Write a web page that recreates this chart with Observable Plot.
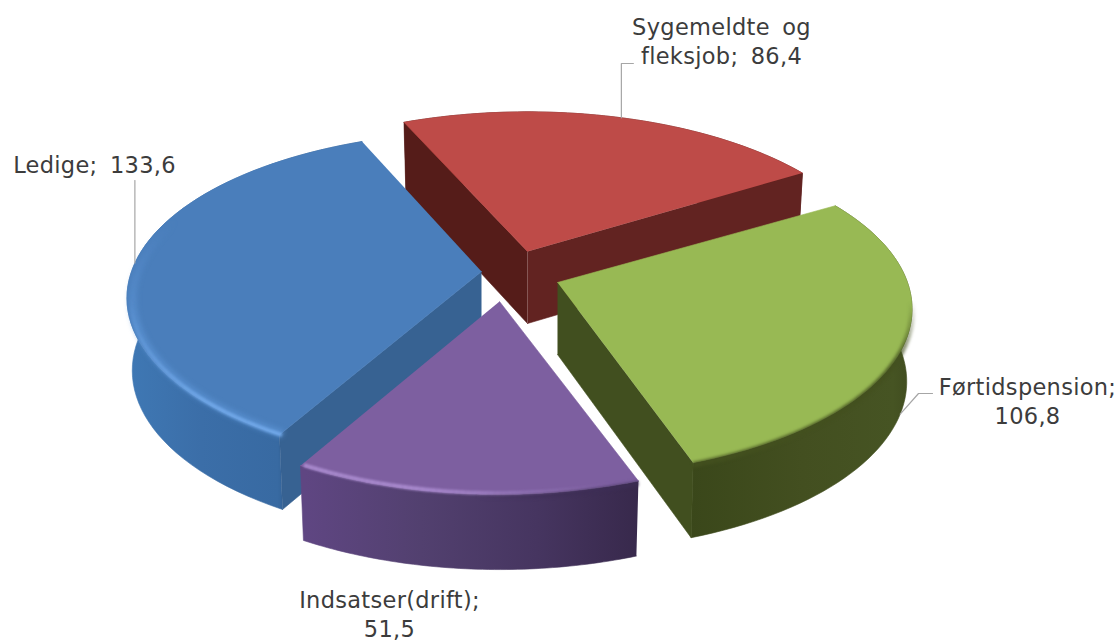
<!DOCTYPE html>
<html><head><meta charset="utf-8">
<script src="https://cdn.jsdelivr.net/npm/d3@7"></script>
<script src="https://cdn.jsdelivr.net/npm/@observablehq/plot@0.6"></script>
<style>
html,body{margin:0;padding:0;background:#fff}
svg text{letter-spacing:.3px;word-spacing:5px}
</style></head><body>
<script>
const categories = ["Ledige", "Sygemeldte og fleksjob", "Førtidspension", "Indsatser(drift)"];
const values = [133.6, 86.4, 106.8, 51.5];
const labelLines = [["Ledige; 133,6"], ["Sygemeldte og", "fleksjob; 86,4"], ["Førtidspension;", "106,8"], ["Indsatser(drift);", "51,5"]];

// Layout of the tilted pie
const START = 209, R = 350, PERSP = 0.16 / 350, K = 162 / 350, DEPTH = 72;
const apex = [[481, 271], [527, 251], [557, 282], [499, 301]];
const turn = [0.8, 0, 0.8, 0.3]; // small per-slice correction of the camera rotation
const topColor = ["#4a7ebb", "#be4b48", "#98b954", "#7d5fa0"];
const cutColor = [["#376292", "#376292"], ["#622321", "#551c19"], ["#414f1f", "#414f1f"], ["#4c3a6a", "#4c3a6a"]];
const rad = d => d * Math.PI / 180;
const total = d3.sum(values);
let acc = START;
const slices = values.map((v, i) => {
  const a0 = acc + turn[i], a1 = acc + turn[i] + v / total * 360;
  acc += v / total * 360;
  return {i, a0, a1};
});
function pt(i, deg, r, z) {
  const X = R * r * Math.sin(rad(deg)), Y = R * r * Math.cos(rad(deg));
  const w = 1 / (1 + PERSP * Y);
  const sx = X * w * (1 - 0.015 * z), sy = -K * Y * w;
  return {x: apex[i][0] + sx, y: apex[i][1] + sy + z * DEPTH * Math.pow(w, 0.25)};
}
const arc = (s, r, z) => d3.range(0, 61).map(k => pt(s.i, s.a0 + (s.a1 - s.a0) * k / 60, r, z));
const poly = (points, fill) => Plot.line(points, {x: "x", y: "y", fill, stroke: fill, strokeWidth: 0.6, curve: "linear"});

const gradients = [
  ["gBlue", 127, 290, [[0, "#3f78b4"], [0.45, "#3b6ea8"], [0.92, "#386aa2"], [1, "#2f5c8e"]]],
  ["gPurple", 305, 636, [[0, "#5f4682"], [0.35, "#52406f"], [0.7, "#463560"], [1, "#38294c"]]],
  ["gGreen", 690, 915, [[0, "#3a471a"], [0.5, "#434f20"], [0.9, "#465423"], [1, "#3e4a1d"]]],
  ["gRed", 403, 810, [[0, "#5a1e1b"], [1, "#5e201d"]]]
];
const wallFill = ["url(#gBlue)", "url(#gRed)", "url(#gGreen)", "url(#gPurple)"];
function defs() {
  const d = d3.create("svg:defs");
  for (const [id, x1, x2, stops] of gradients) {
    const g = d.append("linearGradient").attr("id", id).attr("gradientUnits", "userSpaceOnUse")
      .attr("x1", x1).attr("x2", x2).attr("y1", 0).attr("y2", 0);
    for (const [o, c] of stops) g.append("stop").attr("offset", o).attr("stop-color", c);
  }
  return d.node();
}

const clamp = (v, lo, hi) => Math.max(lo, Math.min(hi, v));
const blurred = px => function (index, scales, values, dims, ctx, next) {
  const g = next(index, scales, values, dims, ctx);
  g.style.filter = `blur(${px}px)`;
  return g;
};
function rim(s, color, opacity, r, width, blur, z = 0.03) {
  const pts = d3.range(0, 61).map(k => {
    const a = s.a0 + (s.a1 - s.a0) * k / 60;
    return {...pt(s.i, a, r, z), a};
  });
  const segs = d3.pairs(pts).map(([p, q]) => ({x1: p.x, y1: p.y, x2: q.x, y2: q.y, o: opacity((p.a + q.a) / 2)}));
  return Plot.link(segs, {x1: "x1", y1: "y1", x2: "x2", y2: "y2", stroke: color,
    strokeOpacity: {value: "o", scale: null}, strokeWidth: width, render: blurred(blur)});
}

const marks = [defs];
// back to front: red, blue, green, purple
for (const i of [1, 0, 2, 3]) {
  const s = slices[i];
  // outer wall
  marks.push(poly([...arc(s, 1, 0), ...arc(s, 1, 1).reverse()], wallFill[i]));
  // cut faces, only when they look at the viewer
  [[s.a0, s.a0 - 90], [s.a1, s.a1 + 90]].forEach(([a, n], f) => {
    if (Math.cos(rad(n)) < 0) {
      marks.push(poly([pt(i, a, 0, 0), pt(i, a, 1, 0), pt(i, a, 1, 1), pt(i, a, 0, 1)], cutColor[i][f === 0 ? 1 : 0]));
    }
  });
  // top
  marks.push(poly([pt(i, 0, 0, 0), ...arc(s, 1, 0)], topColor[i]));
  // bevel
  if (i === 0) {
    marks.push(rim(s, "#5f97d8", a => clamp((290 - a) / 60, 0, 0.6), 0.985, 8, 2.5));
    marks.push(rim(s, "#78aff0", a => clamp((262 - a) / 50, 0, 0.75), 0.99, 4, 1.3));
  }
  if (i === 2) marks.push(rim(s, "#43501f", a => clamp((a - 456) / 25, 0, 0.85), 1.0, 6, 1.6));
  if (i === 3) {
    marks.push(rim(s, "#ab8cd0", a => clamp((a - 523) / 30, 0.02, 0.95), 0.985, 4, 1.3));
    marks.push(rim(s, "#3d2e55", a => clamp((543 - a) / 20, 0, 0.7), 1.0, 5, 1.6));
  }
}

// Leaders and labels, anchored on the rim of each slice
const rimBlue = pt(0, 273, 1, 0), rimRed = pt(1, 378, 1, 0), rimGreen = pt(2, 110, 1, 1);
const leaders = [
  [rimBlue, {x: rimBlue.x, y: 180}],
  [rimRed, {x: rimRed.x, y: 63}, {x: rimRed.x + 12, y: 63}],
  [rimGreen, {x: 918, y: 393}, {x: 932, y: 393}]
];
leaders.forEach(l => marks.push(Plot.line(l, {x: "x", y: "y", stroke: "#a6a6a6", strokeWidth: 1.2})));
const anchors = [[94, 163], [721, 40], [1027, 400], [389, 613]];
const labels = labelLines.map((l, i) => ({t: l.join("\n"), x: anchors[i][0], y: anchors[i][1]}));
marks.push(Plot.text(labels, {x: "x", y: "y", text: "t", fontSize: 22.5, lineHeight: 1.26,
  fontFamily: "DejaVu Sans, Verdana", fill: "#3c3c3c", textAnchor: "middle", lineAnchor: "middle"}));

const chart = Plot.plot({
  width: 1120, height: 641, margin: 0,
  x: {domain: [0, 1120], range: [0, 1120], axis: null},
  y: {domain: [0, 641], range: [0, 641], axis: null},
  style: {background: "#fff"},
  marks
});
document.body.appendChild(chart);
</script>
</body></html>
